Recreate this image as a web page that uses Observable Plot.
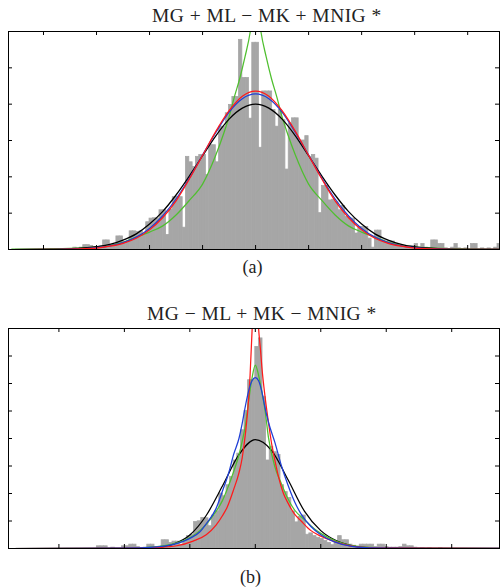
<!DOCTYPE html>
<html><head><meta charset="utf-8">
<script src="https://cdn.jsdelivr.net/npm/d3@7"></script>
<script src="https://cdn.jsdelivr.net/npm/@observablehq/plot@0.6"></script>
<style>
body{margin:0;background:#fff;}
#root{position:relative;width:500px;height:588px;font-family:"Liberation Serif","DejaVu Serif",serif;color:#222;overflow:hidden;}
.t{position:absolute;font-size:19.5px;letter-spacing:0.45px;line-height:1;white-space:nowrap;}
.c{position:absolute;font-size:18px;line-height:1;white-space:nowrap;}
.p{position:absolute;left:0;}
</style></head><body>
<div id="root">
  <div class="t" id="titleA" style="left:152px;top:6.4px;"></div>
  <div class="p" id="plotA" style="top:28px;"></div>
  <div class="c" id="capA" style="left:242.5px;top:258px;"></div>
  <div class="t" id="titleB" style="left:147px;top:304.4px;"></div>
  <div class="p" id="plotB" style="top:324.7px;"></div>
  <div class="c" id="capB" style="left:240px;top:568px;"></div>
</div>
<script>
// ---------- Panel (a) data ----------
const titleA = "MG + ML − MK + MNIG *";
const captionA = "(a)";
const xDomainA = [-4.66, 4.6];
const yDomainA = [0, 6];
const xTicksA = [-4, -3, -2, -1, 0, 1, 2, 3, 4];
const yTicksA = [1, 2, 3, 4, 5];
const histStartA = -3.5;
const histWidthA = 0.0625;
const histA = [
  0, 0.05, 0, 0.05, 0.12, 0.12, 0.1, 0.06, 0.05, 0.08,
  0.25, 0.25, 0.1, 0.12, 0.36, 0.36, 0.2, 0.2, 0.5, 0.5,
  0.48, 0.5, 0.39, 0.75, 0.85, 0.86, 0.85, 1.08, 1.08, 0.4,
  1.1, 1.44, 1.45, 1.44, 0.6, 2.55, 2.4, 2.27, 2.55, 2.6,
  2.6, 2.05, 2.87, 2.87, 2.4, 3.38, 3.38, 3.75, 3.98, 4.2,
  4.2, 5.77, 4.72, 4.72, 3.6, 5.69, 5.69, 2.8, 4.35, 4.35,
  4.35, 3.84, 3.38, 3.84, 3.56, 2.2, 3.47, 3.61, 3.61, 2.96,
  3.0, 3.12, 2.55, 2.6, 2.5, 1.0, 1.75, 1.75, 1.35, 1.37,
  1.3, 1.08, 1.2, 0.9, 0.85, 0.85, 0.44, 0.62, 0.62, 0.62,
  0.3, 0.05, 0.52, 0.52, 0.25, 0.22, 0.22, 0.22, 0.15, 0.1,
  0.1, 0.08, 0.1, 0.1, 0.15, 0.05, 0.15, 0.05, 0.03, 0.25,
  0.25, 0.15, 0.15, 0.03, 0, 0.05, 0.15, 0.03, 0, 0.03,
  0, 0.15, 0.15, 0, 0.03, 0, 0.03, 0, 0.05, 0.15
];
const gridA = [-4.6, -4, -3.5, -3, -2.75, -2.5, -2.25, -2, -1.75, -1.5, -1.25, -1, -0.75, -0.5, -0.25, 0,
               0.25, 0.5, 0.75, 1, 1.25, 1.5, 1.75, 2, 2.25, 2.5, 2.75, 3, 3.5, 4, 4.6];
const blackA = [0, 0.005, 0.02, 0.08, 0.14, 0.26, 0.43, 0.70, 1.05, 1.50, 2.02, 2.58, 3.13, 3.59, 3.89, 4.0,
                3.89, 3.59, 3.13, 2.58, 2.02, 1.50, 1.05, 0.70, 0.43, 0.26, 0.14, 0.07, 0.02, 0.005, 0];
const redA = [0, 0.002, 0.01, 0.04, 0.09, 0.17, 0.31, 0.54, 0.88, 1.34, 1.94, 2.59, 3.25, 3.82, 4.22, 4.36,
              4.22, 3.82, 3.25, 2.59, 1.94, 1.34, 0.88, 0.54, 0.31, 0.17, 0.09, 0.04, 0.01, 0.002, 0];
const blueA = [0, 0.003, 0.01, 0.05, 0.10, 0.19, 0.34, 0.58, 0.93, 1.39, 1.96, 2.60, 3.22, 3.78, 4.15, 4.28,
               4.15, 3.78, 3.22, 2.60, 1.96, 1.39, 0.93, 0.58, 0.34, 0.19, 0.10, 0.05, 0.01, 0.003, 0];
const greenGridA = [-4.6, -4, -3.5, -3, -2.5, -2.25, -2, -1.75, -1.5, -1.25, -1, -0.75, -0.6, -0.5, -0.4, -0.3, -0.2, -0.1, 0,
                    0.1, 0.2, 0.3, 0.4, 0.5, 0.6, 0.75, 1, 1.25, 1.5, 1.75, 2, 2.25, 2.5, 3, 3.5, 4, 4.6];
const greenA = [0.01, 0.02, 0.03, 0.07, 0.2, 0.34, 0.48, 0.65, 0.95, 1.35, 1.8, 2.6, 3.2, 3.65, 4.2, 4.7, 5.3, 6.0, 7.2,
                6.0, 5.3, 4.7, 4.2, 3.65, 3.2, 2.6, 1.8, 1.35, 0.95, 0.65, 0.48, 0.34, 0.2, 0.07, 0.03, 0.02, 0.01];

// ---------- Panel (b) data ----------
const titleB = "MG − ML + MK − MNIG *";
const captionB = "(b)";
const xDomainB = [-3.77, 3.73];
const yDomainB = [0, 8];
const xTicksB = [-3, -2, -1, 0, 1, 2, 3];
const yTicksB = [1, 2, 3, 4, 5, 6, 7];
const histStartB = -2.75;
const histWidthB = 0.055;
const histB = [
  0, 0, 0, 0, 0, 0, 0.08, 0.08, 0.08, 0,
  0.03, 0, 0, 0.08, 0.08, 0.14, 0.14, 0.05, 0, 0.03,
  0.14, 0.14, 0.05, 0.05, 0.3, 0.3, 0.2, 0.25, 0.25, 0.14,
  0.25, 0.45, 0.5, 0.96, 0.99, 1.11, 1.1, 0.81, 1.2, 1.35,
  2.0, 1.9, 2.3, 2.6, 3.2, 3.45, 4.3, 5.0, 6.12, 6.12,
  7.33, 7.64, 5.5, 3.2, 3.7, 3.5, 3.4, 2.3, 2.05, 1.84,
  1.35, 0.95, 1.15, 1.2, 0.5, 0.55, 0.45, 0.39, 0.35, 0.27,
  0.2, 0.12, 0.2, 0.45, 0.3, 0.3, 0.14, 0.1, 0.05, 0.14,
  0.14, 0.14, 0.14, 0.05, 0.14, 0.14, 0.05, 0.03, 0.03, 0.03,
  0.05, 0.14, 0.08, 0.08, 0.03, 0, 0.02, 0, 0.02, 0,
  0, 0.02, 0, 0, 0, 0, 0, 0, 0, 0,
  0, 0, 0, 0, 0, 0, 0, 0
];
const blackGridB = [-3.77, -2, -1.75, -1.5, -1.25, -1, -0.75, -0.5, -0.25, 0, 0.25, 0.5, 0.75, 1, 1.25, 1.5, 1.75, 2, 3.73];
const blackB = [0, 0.002, 0.01, 0.04, 0.16, 0.49, 1.2, 2.28, 3.41, 3.96, 3.56, 2.5, 1.36, 0.65, 0.27, 0.09, 0.02, 0.005, 0];
const blueGridB = [-3.77, -2, -1.5, -1.25, -1.1, -1, -0.85, -0.75, -0.6, -0.5, -0.4, -0.33, -0.25, -0.2, -0.15, -0.1, -0.05, 0,
                   0.05, 0.1, 0.15, 0.2, 0.3, 0.4, 0.5, 0.6, 0.7, 0.85, 1, 1.2, 1.5, 2, 3.73];
const blueB = [0, 0.01, 0.06, 0.15, 0.26, 0.37, 0.6, 0.9, 1.45, 2.1, 2.8, 3.43, 4.0, 4.55, 5.2, 5.75, 6.1, 6.21,
               6.1, 5.7, 5.1, 4.6, 3.85, 3.0, 2.3, 1.7, 1.25, 0.8, 0.5, 0.25, 0.07, 0.01, 0];
const greenGridB = [-3.77, -2, -1.5, -1.25, -1.05, -0.9, -0.75, -0.6, -0.5, -0.43, -0.33, -0.25, -0.2, -0.15, -0.1, -0.05, 0,
                    0.05, 0.1, 0.15, 0.2, 0.3, 0.4, 0.5, 0.6, 0.75, 0.9, 1, 1.25, 1.5, 2, 3.73];
const greenB = [0, 0.01, 0.07, 0.17, 0.33, 0.55, 0.88, 1.35, 1.75, 2.15, 2.8, 3.4, 3.9, 4.5, 5.4, 6.2, 6.67,
                6.3, 5.7, 5.0, 4.05, 2.96, 2.35, 1.8, 1.4, 1.05, 0.72, 0.55, 0.25, 0.1, 0.02, 0];
const redGridB = [-3.77, -2, -1.5, -1.2, -0.95, -0.75, -0.6, -0.5, -0.43, -0.33, -0.25, -0.2, -0.15, -0.1, -0.08, -0.05, -0.03, 0,
                  0.03, 0.05, 0.08, 0.1, 0.15, 0.2, 0.25, 0.3, 0.35, 0.43, 0.5, 0.6, 0.7, 0.85, 1, 1.2, 1.5, 2, 3.73];
const redB = [0, 0.01, 0.04, 0.1, 0.27, 0.5, 0.85, 1.2, 1.5, 2.15, 2.75, 3.3, 4.2, 5.5, 6.3, 7.9, 8.8, 11,
              8.8, 8.0, 7.2, 6.6, 5.5, 4.6, 3.8, 3.2, 2.65, 2.0, 1.65, 1.25, 1.0, 0.65, 0.45, 0.26, 0.08, 0.02, 0];

// ---------- drawing ----------
const COLORS = {black: "#000000", red: "#ff1a1a", blue: "#1f3fd6", green: "#4fbf2f", bar: "#a6a6a6"};

function toPoints(xs, ys) { return xs.map((x, i) => ({x, y: ys[i]})); }

function panel(o) {
  const width = 500, mL = 8, mR = 1;
  const innerH = o.height - o.marginTop - o.marginBottom;
  const innerW = width - mL - mR;
  const bins = o.hist.map((h, i) => ({x1: o.histStart + i * o.histWidth, x2: o.histStart + (i + 1) * o.histWidth, y0: 0, y: h}));
  const marks = [
    Plot.rect(bins.filter(b => b.y > 0), {x1: "x1", x2: "x2", y1: "y0", y2: "y", fill: COLORS.bar, stroke: COLORS.bar, strokeWidth: 0.8, clip: true}),
    ...o.curves.map(c => Plot.line(toPoints(c.xs, c.ys), {x: "x", y: "y", stroke: c.color, strokeWidth: 1.25, curve: "monotone-x", clip: true})),
    Plot.tickX(o.xTicks, {x: d => d, stroke: "#000", insetBottom: innerH - 4}),
    Plot.tickX(o.xTicks, {x: d => d, stroke: "#000", insetTop: innerH - 4}),
    Plot.tickY(o.yTicks, {y: d => d, stroke: "#000", insetRight: innerW - 4}),
    Plot.tickY(o.yTicks, {y: d => d, stroke: "#000", insetLeft: innerW - 4}),
    Plot.frame({stroke: "#000", strokeWidth: 1})
  ];
  return Plot.plot({
    width, height: o.height, marginTop: o.marginTop, marginBottom: o.marginBottom, marginLeft: mL, marginRight: mR,
    x: {domain: o.xDomain, axis: null},
    y: {domain: o.yDomain, axis: null},
    marks
  });
}

document.getElementById("titleA").textContent = titleA;
document.getElementById("titleB").textContent = titleB;
document.getElementById("capA").textContent = captionA;
document.getElementById("capB").textContent = captionB;

document.getElementById("plotA").appendChild(panel({
  height: 224, marginTop: 3, marginBottom: 3,
  xDomain: xDomainA, yDomain: yDomainA, xTicks: xTicksA, yTicks: yTicksA,
  hist: histA, histStart: histStartA, histWidth: histWidthA,
  curves: [
    {xs: greenGridA, ys: greenA, color: COLORS.green},
    {xs: gridA, ys: blackA, color: COLORS.black},
    {xs: gridA, ys: blueA, color: COLORS.blue},
    {xs: gridA, ys: redA, color: COLORS.red}
  ]
}));

document.getElementById("plotB").appendChild(panel({
  height: 226, marginTop: 3, marginBottom: 3,
  xDomain: xDomainB, yDomain: yDomainB, xTicks: xTicksB, yTicks: yTicksB,
  hist: histB, histStart: histStartB, histWidth: histWidthB,
  curves: [
    {xs: blackGridB, ys: blackB, color: COLORS.black},
    {xs: greenGridB, ys: greenB, color: COLORS.green},
    {xs: redGridB, ys: redB, color: COLORS.red},
    {xs: blueGridB, ys: blueB, color: COLORS.blue}
  ]
}));
</script>
</body></html>
